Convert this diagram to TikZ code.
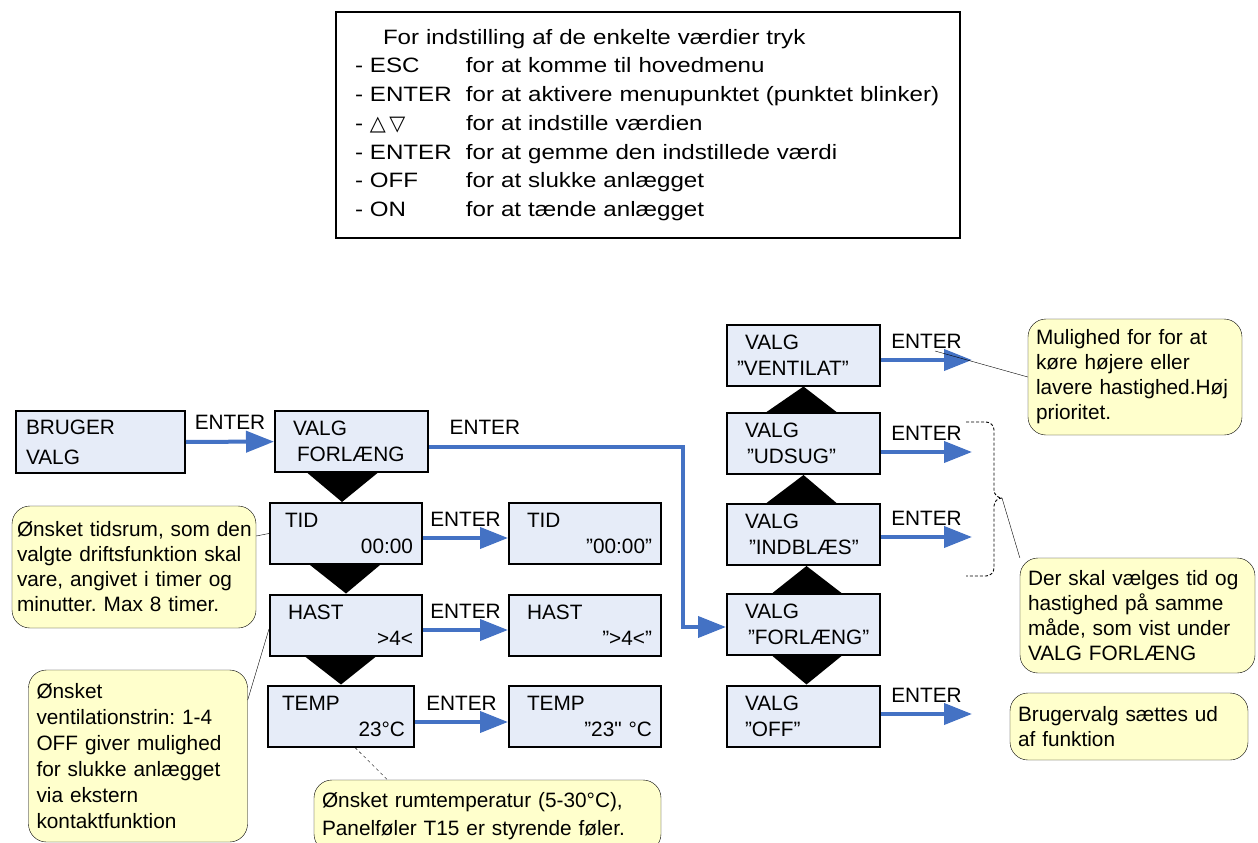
\documentclass[tikz,border=0pt]{standalone}
\usepackage{fontspec}
\setmainfont{Liberation Sans}
\newfontfamily\widefont[FakeStretch=1.16]{Liberation Sans}
\newfontfamily\straightfont[Ligatures=TeXOff]{Liberation Sans}
\newfontfamily\symfont{DejaVu Sans}
\usetikzlibrary{arrows.meta}
\definecolor{menufill}{RGB}{230,236,248}
\definecolor{notefill}{RGB}{255,255,204}
\definecolor{flowblue}{RGB}{68,114,196}
\frenchspacing

\begin{document}
\begin{tikzpicture}[x=1pt,y=-1pt]
  \tikzset{
    txt/.style={font=\fontsize{20.8}{26}\selectfont},
    menu/.style={rectangle,draw,line width=2pt,fill=menufill,minimum height=61pt,
      text width=135pt,inner xsep=9pt,inner ysep=0pt,align=left,txt},
    note/.style={rectangle,draw,thin,fill=notefill,rounded corners=18pt,align=left,
      inner xsep=8pt,inner ysep=0pt,font=\fontsize{20.8}{25}\selectfont},
    flow/.style={flowblue,line width=4pt,-{Triangle[length=28pt,width=21pt]}},
    enter/.style={above=10pt,inner sep=0pt,black,txt},
    brace/.style={black,line width=0.9pt,dash pattern=on 3pt off 2pt,rounded corners=8pt}
  }
  \useasboundingbox (0,0) rectangle (1258,843);

  \node[draw,line width=2.2pt,minimum width=624pt,minimum height=226pt,text width=586pt,
    inner sep=0pt,align=left,font=\widefont\fontsize{20.8}{28.7}\selectfont] (info) at (648,125)
    {\hspace*{28pt}For indstilling af de enkelte værdier tryk\\
     \makebox[111pt][l]{- ESC}for at komme til hovedmenu\\
     \makebox[111pt][l]{- ENTER}for at aktivere menupunktet (punktet blinker)\\
     \makebox[111pt][l]{- {\symfont △\,▽}}for at indstille værdien\\
     \makebox[111pt][l]{- ENTER}for at gemme den indstillede værdi\\
     \makebox[111pt][l]{- OFF}for at slukke anlægget\\
     \makebox[111pt][l]{- ON}for at tænde anlægget};

  \node[menu,text width=151pt,minimum height=62pt] (bruger) at (100.5,442)
    {\hspace*{1pt}BRUGER\\[4pt]\hspace*{1pt}VALG};
  \node[menu] (valgf) at (351.5,441.5) {\hspace*{9pt}VALG\\\hspace*{13pt}FORLÆNG};
  \node[menu,text width=134pt] (tid) at (346,533.5) {\hspace*{6pt}TID\\\hfill 00:00};
  \node[menu,text width=134pt] (hast) at (346,625) {\hspace*{9pt}HAST\\\hfill >4<};
  \node[menu,text width=128pt] (temp) at (341,716) {\hspace*{5pt}TEMP\\\hfill 23°C};
  \node[menu,text width=134pt] (tidv) at (585,533.5) {\hspace*{9pt}TID\\\hfill ”00:00”};
  \node[menu,text width=134pt] (hastv) at (585,625) {\hspace*{9pt}HAST\\\hfill ”>4<”};
  \node[menu,text width=134pt] (tempv) at (585,716) {\hspace*{9pt}TEMP\\\hfill ”23{\straightfont"} °C};

  \node[menu] (vent) at (803.5,355) {\hspace*{9pt}VALG\\\hspace*{1pt}”VENTILAT”};
  \node[menu] (udsug) at (803.5,443.5) {\hspace*{9pt}VALG\\\hspace*{11pt}”UDSUG”};
  \node[menu] (indbl) at (803.5,534.5) {\hspace*{9pt}VALG\\\hspace*{13pt}”INDBLÆS”};
  \node[menu] (forl) at (803.5,624.5) {\hspace*{9pt}VALG\\\hspace*{12pt}”FORLÆNG”};
  \node[menu] (off) at (803.5,716) {\hspace*{9pt}VALG\\\hspace*{9pt}”OFF”};

  \fill ([xshift=-44pt]valgf.south) -- ([xshift=26pt]valgf.south) -- ([xshift=-4pt]tid.north) -- cycle;
  \fill ([xshift=-36pt]tid.south) -- ([xshift=34pt]tid.south) -- (hast.north) -- cycle;
  \fill ([xshift=-41pt]hast.south) -- ([xshift=30pt]hast.south) -- (temp.north) -- cycle;
  \fill (vent.south) -- ([xshift=-37pt]udsug.north) -- ([xshift=33pt]udsug.north) -- cycle;
  \fill (udsug.south) -- ([xshift=-37pt]indbl.north) -- ([xshift=33pt]indbl.north) -- cycle;
  \fill ([xshift=3pt]indbl.south) -- ([xshift=-31pt]forl.north) -- ([xshift=38pt]forl.north) -- cycle;
  \fill ([xshift=-31pt]forl.south) -- ([xshift=38pt]forl.south) -- ([xshift=3pt]off.north) -- cycle;

  \draw[flow] (bruger) -- (valgf) node[enter,midway] (e0) {ENTER};
  \draw[flow] ([yshift=-4.5pt]tid.east) -- ([yshift=-4.5pt]tidv.west) node[enter,midway] (e1) {ENTER};
  \draw[flow] ([yshift=-5pt]hast.east) -- ([yshift=-5pt]hastv.west) node[enter,midway] (e2) {ENTER};
  \draw[flow] ([yshift=-6pt]temp.east) -- ([yshift=-6pt]tempv.west) node[enter,midway] (e3) {ENTER};

  \coordinate (bend) at (683,627);
  \draw[flow] ([yshift=-5pt]valgf.east) -| node[enter,pos=0.11] (e4) {ENTER} (bend)
    -- ([yshift=-2.5pt]forl.west);

  \coordinate (ventend) at (972,360);
  \coordinate (udsugend) at (972,452);
  \coordinate (indblend) at (972,537);
  \coordinate (offend) at (972,714);
  \draw[flow] ([yshift=-5pt]vent.east) -- (ventend) node[enter,midway] (e5) {ENTER};
  \draw[flow] ([yshift=-8.5pt]udsug.east) -- (udsugend) node[enter,midway] (e6) {ENTER};
  \draw[flow] ([yshift=-2.5pt]indbl.east) -- (indblend) node[enter,midway] (e7) {ENTER};
  \draw[flow] ([yshift=2pt]off.east) -- (offend) node[enter,midway] (e8) {ENTER};

  \node[note,text width=198pt,minimum height=116pt] (mul) at (1135,377)
    {Mulighed for for at\\køre højere eller\\lavere hastighed.Høj\\prioritet.};
  \coordinate (mulpt) at (935,351);
  \draw (mulpt) -- (mul.west);

  \node[note,text width=219pt,minimum height=115pt] (der) at (1137.5,615.5)
    {Der skal vælges tid og\\hastighed på samme\\måde, som vist under\\VALG FORLÆNG};
  \coordinate (bracetip) at (1002,498);
  \draw[brace] (966,422) -| (994,498) -- (bracetip);
  \draw[brace] (bracetip) -- (994,498) |- (966,576);
  \draw (bracetip) -- (der.north west);

  \node[note,text width=222pt,minimum height=67pt] (bv) at (1129,726.5)
    {Brugervalg sættes ud\\af funktion};

  \node[note,text width=234pt,inner xsep=5pt,minimum height=122pt] (tids) at (134,567)
    {\mbox{Ønsket tidsrum, som den}\\valgte driftsfunktion skal\\vare, angivet i timer og\\minutter. Max 8 timer.};
  \draw ([yshift=31pt]tids.east) -- (tid.west);

  \node[note,text width=203pt,minimum height=172pt,font=\fontsize{20.8}{26}\selectfont] (ventn) at (138,756)
    {Ønsket\\ventilationstrin: 1-4\\OFF giver mulighed\\for slukke anlægget\\via ekstern\\kontaktfunktion};
  \draw ([yshift=56pt]ventn.east) -- ([yshift=-4pt]hast.west);

  \node[note,text width=331pt,minimum height=72pt,font=\fontsize{20.8}{28}\selectfont] (rum) at (487.5,816)
    {Ønsket rumtemperatur (5-30°C),\\Panelføler T15 er styrende føler.};
  \draw[dashed] ([xshift=14pt]temp.south) -- ([xshift=-100pt]rum.north);
\end{tikzpicture}
\end{document}
